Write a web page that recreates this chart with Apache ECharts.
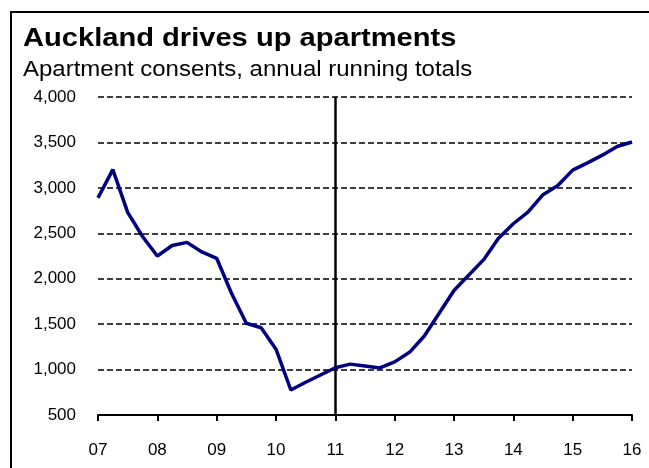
<!DOCTYPE html>
<html>
<head>
<meta charset="utf-8">
<script src="https://cdn.jsdelivr.net/npm/echarts@6/dist/echarts.min.js"></script>
<style>
  html, body { margin: 0; padding: 0; background: #fff; }
  #chart { width: 649px; height: 468px; }
</style>
</head>
<body>
<div id="chart"></div>
<script>
// Quarterly time points (year offset within the 2000s) and annual running totals of apartment consents
const quarters = [
  7.00, 7.25, 7.50, 7.75, 8.00, 8.25, 8.50, 8.75, 9.00, 9.25, 9.50, 9.75,
  10.00, 10.25, 10.50, 10.75, 11.00, 11.25, 11.50, 11.75, 12.00, 12.25, 12.50, 12.75,
  13.00, 13.25, 13.50, 13.75, 14.00, 14.25, 14.50, 14.75, 15.00, 15.25, 15.50, 15.75, 16.00
];
const consents = [
  2890, 3200, 2730, 2465, 2250, 2365, 2400, 2295, 2225, 1840, 1510, 1460,
  1225, 775, 860, 940, 1020, 1060, 1040, 1018, 1085, 1190, 1370, 1620,
  1870, 2040, 2210, 2445, 2605, 2735, 2925, 3025, 3195, 3275, 3360, 3455, 3505
];
const yTicks = ['500', '1,000', '1,500', '2,000', '2,500', '3,000', '3,500', '4,000'];
const markerYear = 11;

const title = 'Auckland drives up apartments';
const subtitle = 'Apartment consents, annual running totals';

const chart = echarts.init(document.getElementById('chart'), null, { renderer: 'canvas' });

chart.setOption({
  animation: false,
  backgroundColor: '#ffffff',
  textStyle: { fontFamily: 'Liberation Sans, Arial, sans-serif' },
  graphic: [
    // frame: top and left rules
    { type: 'line', shape: { x1: 10, y1: 12, x2: 649, y2: 12 }, style: { stroke: '#000', lineWidth: 2 } },
    { type: 'line', shape: { x1: 11, y1: 11, x2: 11, y2: 468 }, style: { stroke: '#000', lineWidth: 2 } },
    // headline and subheading, set in a slightly widened face
    { type: 'text', x: 23, y: 26.5, scaleX: 1.164,
      style: { text: title, fill: '#000', font: 'bold 25px Liberation Sans, Arial, sans-serif', verticalAlign: 'top' } },
    { type: 'text', x: 23, y: 59, scaleX: 1.09,
      style: { text: subtitle, fill: '#000', font: '22px Liberation Sans, Arial, sans-serif', verticalAlign: 'top' } }
  ],
  grid: { left: 98, right: 17, top: 97, bottom: 53, containLabel: false },
  xAxis: {
    type: 'value',
    min: 7, max: 16, interval: 1,
    axisLine: { show: true, lineStyle: { color: '#000', width: 2 } },
    axisTick: { show: true, inside: false, length: 6, lineStyle: { color: '#000', width: 2 } },
    axisLabel: {
      color: '#000', fontSize: 17, margin: 27,
      formatter: v => String(Math.round(v)).padStart(2, '0')
    },
    splitLine: { show: false }
  },
  yAxis: {
    type: 'value',
    min: 500, max: 4000, interval: 500,
    axisLine: { show: false },
    axisTick: { show: false },
    axisLabel: {
      color: '#000', fontSize: 17, margin: 22,
      formatter: v => yTicks[Math.round((v - 500) / 500)]
    },
    splitLine: { show: true, lineStyle: { color: '#000', width: 1.5, type: [6, 3] } }
  },
  series: [{
    type: 'line',
    data: quarters.map((q, i) => [q, consents[i]]),
    showSymbol: false,
    symbol: 'none',
    lineStyle: { color: '#000080', width: 3.5 },
    z: 3,
    markLine: {
      silent: true,
      symbol: 'none',
      label: { show: false },
      lineStyle: { color: '#000', width: 2.5, type: 'solid' },
      data: [{ xAxis: markerYear }],
      z: 2
    }
  }]
});
</script>
</body>
</html>
